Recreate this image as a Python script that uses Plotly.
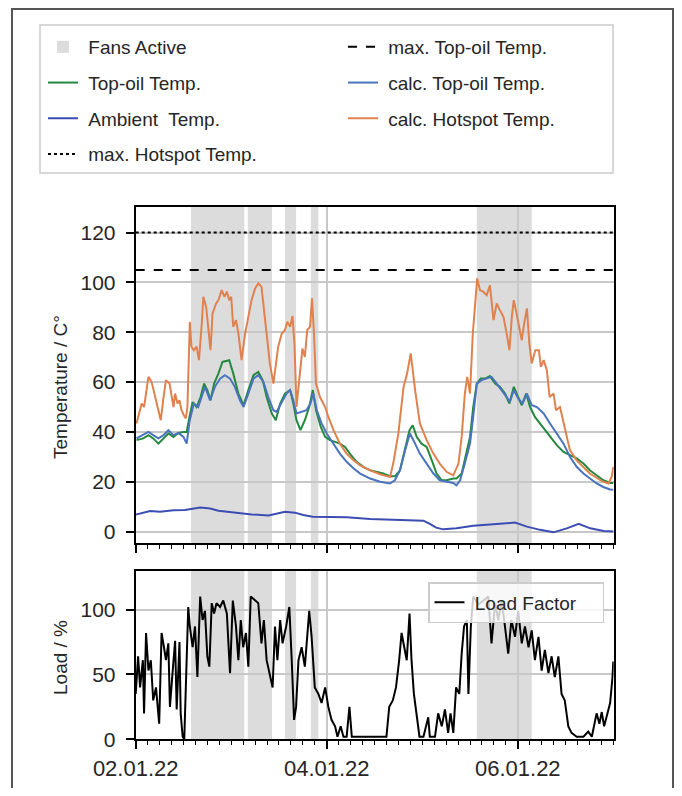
import pandas as pd
import plotly.graph_objects as go

BASE = pd.Timestamp("2022-01-02 00:00")
END_H = 120.1

# ---------------- data (hours after 02.01.22 00:00) ----------------
fans_start_h = [13.9, 28.15, 37.5, 44.0, 85.7]
fans_end_h = [27.3, 34.25, 40.3, 45.9, 99.5]

hotspot_h = [0.2, 0.9, 1.5, 2.1, 2.6, 3.2, 4.0, 4.9, 5.7, 6.3, 7.0, 7.6, 8.5, 9.0, 9.5, 9.9, 10.5,
             11.0, 11.5, 12.1, 12.6, 13.0, 13.6, 14.0, 14.6, 15.3, 15.9, 16.6, 17.0, 17.7, 18.2,
             18.8, 19.3, 20.2, 20.8, 21.6, 22.3, 22.9, 23.5, 24.0, 24.5, 25.2, 25.8, 26.6, 27.5,
             28.3, 29.1, 30.0, 30.8, 31.6, 32.5, 33.1, 33.7, 34.6, 35.3, 35.8, 36.7, 37.5, 38.1,
             38.8, 39.4, 39.9, 40.4, 41.1, 41.9, 42.5, 43.1, 43.8, 44.3, 44.8, 45.3, 46.3, 47.6,
             48.4, 49.7, 51.3, 53.0, 54.7, 56.4, 58.9, 61.4, 63.9, 64.7, 66.0, 67.3, 68.2, 69.1,
             70.2, 71.4, 73.1, 74.8, 76.4, 78.1, 79.8, 81.1, 81.9, 82.7, 83.3, 84.0, 84.7, 85.3,
             85.8, 86.5, 87.3, 88.2, 89.0, 89.9, 90.7, 91.5, 92.4, 93.2, 93.9, 94.5, 95.0, 95.7,
             96.4, 97.0, 97.6, 98.3, 98.9, 99.5, 100.4, 101.3, 101.8, 102.5, 103.3, 104.0, 105.0,
             105.6, 106.6, 107.9, 109.1, 110.8, 112.5, 114.1, 115.8, 117.5, 118.8, 119.6, 120.0]
hotspot_v = [43.4, 47.4, 51.4, 50.0, 55.4, 62.1, 60.0, 54.0, 48.7, 44.7, 54.0, 60.8, 59.4, 54.0,
             50.0, 55.4, 51.4, 52.7, 48.7, 46.7, 45.4, 50.0, 84.2, 74.2, 72.8, 74.2, 68.8, 83.5,
             94.2, 90.2, 80.9, 72.8, 87.5, 91.6, 92.9, 96.9, 94.2, 96.3, 92.9, 94.2, 82.2, 84.9,
             79.5, 68.8, 79.5, 86.2, 92.9, 97.6, 99.6, 98.3, 86.2, 76.8, 67.5, 59.4, 68.8, 74.2,
             79.5, 80.9, 84.2, 82.2, 86.5, 75.0, 50.0, 62.1, 73.5, 70.1, 80.9, 82.2, 93.6, 79.5,
             59.4, 54.0, 50.0, 46.0, 40.7, 35.3, 31.3, 28.6, 26.6, 24.6, 23.0, 21.9, 27.3, 39.4,
             58.1, 63.5, 71.5, 56.8, 43.4, 36.7, 31.3, 27.3, 24.0, 22.6, 27.3, 38.0, 55.4, 62.1,
             55.4, 79.5, 92.9, 101.6, 96.9, 96.3, 94.9, 98.9, 84.9, 91.6, 88.9, 86.2, 79.5, 72.8,
             86.2, 92.9, 87.5, 82.2, 76.8, 83.5, 89.6, 75.5, 67.5, 72.8, 72.8, 66.1, 68.8, 64.8,
             54.0, 55.4, 48.7, 50.0, 40.7, 32.7, 28.6, 26.0, 23.3, 21.6, 20.0, 19.3, 22.0, 26.0]

topoil_h = [0.2, 1.9, 3.2, 4.4, 5.7, 7.0, 8.2, 9.5, 10.7, 12.0, 12.8, 13.5, 14.3, 15.3, 16.3, 17.2,
            18.0, 18.8, 19.7, 20.8, 21.8, 23.5, 24.5, 25.8, 27.1, 28.3, 29.6, 30.8, 31.9, 32.9,
            34.2, 35.2, 36.3, 37.5, 38.8, 39.6, 40.4, 41.4, 42.5, 43.6, 44.5, 45.3, 46.5, 47.6,
            48.8, 50.1, 51.3, 52.6, 53.8, 55.5, 57.2, 58.9, 60.5, 62.2, 63.9, 65.1, 66.4, 67.7,
            68.8, 69.6, 70.6, 71.8, 73.1, 74.4, 75.6, 76.9, 78.1, 79.8, 80.6, 81.9, 83.2, 84.0,
            84.8, 85.7, 86.7, 87.8, 89.0, 90.3, 91.5, 92.8, 93.9, 95.0, 96.1, 97.0, 98.1, 99.1,
            100.3, 101.6, 102.9, 104.1, 105.8, 107.5, 109.1, 110.8, 112.5, 114.1, 115.8, 117.5,
            119.2, 120.0]
topoil_v = [36.7, 37.4, 38.7, 37.4, 35.3, 37.4, 39.4, 38.0, 39.6, 40.0, 40.0, 46.0, 52.0, 50.0,
            54.0, 59.4, 56.8, 52.7, 59.4, 63.5, 68.1, 68.8, 63.5, 55.4, 50.7, 56.8, 62.8, 64.1,
            60.8, 54.0, 47.4, 44.7, 51.4, 55.4, 56.8, 51.4, 44.7, 40.7, 44.7, 50.0, 56.8, 48.8,
            42.0, 38.0, 36.7, 36.0, 35.3, 34.0, 31.3, 28.0, 26.0, 24.6, 24.0, 23.3, 22.2, 22.2,
            24.6, 32.7, 40.7, 42.7, 38.0, 35.3, 34.0, 28.6, 23.3, 20.6, 20.6, 21.3, 21.3, 23.3,
            32.7, 38.0, 50.0, 59.4, 61.4, 61.4, 62.4, 59.4, 58.1, 55.4, 51.4, 58.1, 54.0, 50.7,
            55.4, 50.0, 46.0, 43.4, 40.7, 38.0, 34.7, 32.0, 30.7, 29.4, 27.3, 24.6, 22.6, 20.6,
            19.5, 19.5]

calc_topoil_h = [0.2, 1.9, 3.2, 4.4, 5.7, 7.0, 8.2, 9.5, 10.7, 12.0, 12.8, 13.6, 14.6, 15.7, 16.6,
                 17.4, 18.7, 19.9, 21.2, 22.4, 23.7, 24.9, 26.2, 27.1, 28.3, 29.6, 30.8, 32.1,
                 33.3, 34.6, 35.4, 36.7, 37.9, 38.8, 39.6, 40.4, 41.7, 42.9, 43.9, 44.6, 45.5,
                 46.7, 48.0, 49.7, 51.3, 53.0, 54.7, 56.4, 58.9, 61.4, 63.9, 65.1, 66.4, 67.7,
                 68.9, 70.2, 71.4, 73.1, 74.8, 76.4, 78.1, 79.8, 80.6, 81.5, 82.7, 84.0, 84.8,
                 85.7, 86.9, 88.2, 89.4, 90.7, 92.0, 93.2, 94.0, 95.0, 96.1, 97.2, 98.3, 99.5,
                 100.8, 102.5, 104.1, 105.8, 107.5, 109.1, 110.8, 112.5, 114.1, 115.8, 117.5,
                 119.2, 120.0]
calc_topoil_v = [37.4, 38.7, 40.0, 38.7, 37.4, 38.7, 40.7, 38.7, 39.6, 38.0, 35.3, 44.7, 51.4,
                 50.0, 54.0, 58.1, 52.7, 58.1, 61.4, 62.8, 61.4, 58.1, 52.7, 50.0, 55.4, 61.4,
                 62.8, 60.1, 54.0, 48.7, 48.0, 52.0, 55.4, 56.8, 52.7, 47.4, 48.0, 48.7, 51.4,
                 55.4, 48.7, 43.4, 39.4, 35.3, 31.3, 28.0, 25.4, 23.3, 21.3, 20.0, 19.3, 20.6,
                 24.6, 32.7, 39.4, 35.3, 31.3, 27.3, 23.3, 20.6, 20.0, 19.5, 18.6, 20.6, 27.3,
                 35.3, 46.0, 59.4, 60.8, 61.4, 62.1, 59.4, 56.8, 54.0, 52.0, 56.8, 53.4, 51.4,
                 55.4, 50.7, 50.0, 47.4, 43.4, 39.4, 35.3, 30.0, 26.0, 23.3, 21.3, 19.3, 17.9,
                 16.9, 16.8]

ambient_h = [0.0, 1.5, 3.6, 6.1, 9.5, 12.4, 16.2, 18.7, 20.8, 23.0, 25.0, 27.1, 29.2, 33.4, 35.5,
             37.5, 40.0, 42.1, 44.5, 47.1, 50.3, 53.0, 58.9, 65.6, 72.3, 73.9, 75.5, 77.3, 80.6,
             84.8, 89.0, 92.4, 95.3, 98.3, 101.6, 105.0, 108.3, 111.3, 114.2, 117.6, 120.0]
ambient_v = [6.8, 7.3, 8.3, 8.0, 8.6, 8.7, 9.7, 9.3, 8.4, 8.0, 7.6, 7.3, 6.9, 6.5, 7.2, 8.0, 7.6,
             6.7, 6.0, 6.0, 5.7, 5.8, 5.1, 4.9, 4.4, 3.1, 1.6, 0.9, 1.3, 2.3, 2.7, 3.1, 3.6, 2.0,
             0.7, -0.3, 1.3, 3.1, 1.3, 0.2, 0.0]

load_h = [0.0, 0.6, 1.1, 1.8, 2.1, 2.6, 3.2, 3.8, 4.4, 5.1, 5.9, 6.5, 7.1, 7.6, 8.2, 8.6, 9.3, 9.9,
          10.3, 11.0, 11.3, 11.8, 12.2, 12.6, 13.2, 13.6, 14.3, 14.9, 15.5, 16.2, 16.8, 17.4,
          18.0, 18.5, 19.1, 19.7, 20.3, 21.2, 22.0, 22.9, 23.7, 24.4, 25.2, 25.8, 26.4, 27.0,
          27.7, 28.3, 28.9, 29.7, 30.8, 31.6, 32.2, 32.9, 33.7, 34.4, 35.0, 35.6, 36.3, 36.9,
          37.8, 38.6, 39.2, 39.8, 40.3, 40.9, 41.7, 42.5, 43.6, 44.2, 45.0, 45.9, 46.7, 47.6,
          48.4, 49.2, 50.1, 50.7, 51.5, 52.2, 53.0, 53.7, 54.3, 55.5, 57.2, 60.5, 63.0, 63.7,
          64.6, 65.4, 66.2, 66.8, 67.4, 68.1, 68.8, 69.3, 69.9, 70.6, 71.3, 72.3, 73.5, 73.9,
          75.2, 76.0, 76.9, 77.7, 78.5, 79.1, 79.8, 80.5, 81.3, 81.9, 82.5, 83.2, 83.6, 84.2,
          84.8, 86.1, 87.3, 88.6, 89.4, 90.3, 91.1, 91.9, 92.7, 93.6, 94.4, 95.3, 96.1, 97.0,
          97.8, 98.7, 99.5, 100.3, 101.2, 102.0, 102.8, 103.7, 104.5, 105.3, 106.2, 107.0,
          107.8, 108.7, 109.5, 110.8, 112.5, 113.7, 114.6, 115.8, 116.5, 117.1, 117.7, 118.3,
          119.2, 119.8, 120.0]
load_v = [35, 64, 40, 61, 20, 82, 53, 61, 30, 40, 12, 82, 71, 61, 74, 25, 53, 76, 23, 75, 20, 2,
          0, 48, 102, 87, 71, 87, 48, 110, 92, 99, 64, 56, 105, 97, 105, 102, 107, 97, 51, 107,
          87, 61, 92, 71, 82, 56, 110, 108, 105, 74, 92, 61, 51, 40, 87, 61, 92, 74, 87, 102, 61,
          15, 25, 61, 71, 56, 99, 79, 40, 35, 28, 40, 25, 15, 10, 2, 10, 2, 2, 25, 2, 2, 2.5, 2,
          2, 25, 30, 40, 61, 82, 71, 61, 97, 61, 35, 20, 2, 2, 17, 2, 2, 20, 10, 23, 5, 20, 5,
          40, 35, 66, 87, 92, 35, 87, 110, 104, 107, 110, 74, 105, 92, 107, 89, 66, 92, 79, 99,
          74, 87, 71, 84, 61, 79, 53, 69, 51, 64, 48, 64, 35, 30, 10, 5, 2, 2, 6, 2, 20, 12, 21,
          10, 17, 28, 48, 60]

max_hotspot = 120
max_topoil = 105
temp_ticks = [0, 20, 40, 60, 80, 100, 120]
load_ticks = [0, 50, 100]


def t(hours):
    return [BASE + pd.Timedelta(hours=h) for h in hours]


limit_x = t([0.0, END_H])

# ---------------- geometry (page pixels; the page body has an 8px margin) ----------------
OFF = 8
W, H = 682 - 2 * OFF, 796 - 2 * OFF
px = lambda v: (v - OFF) / W
py = lambda v: 1 - (v - OFF) / H

FONT = "Liberation Sans, Arial, sans-serif"
TXT = "#262626"
GREEN = "#24893d"
AMB = "#3b4db3"
CALC = "#4a74bd"
ORANGE = "#e0824f"
FAN = "#dcdcdc"
GRID = "#c8c8c8"
SP = "\u00a0"

fig = go.Figure()

fig.add_trace(go.Scatter(x=t(topoil_h), y=topoil_v, mode="lines", name=SP + "Top-oil Temp.",
                         line=dict(color=GREEN, width=2), legend="legend", legendgroup="g2",
                         legendrank=2, xaxis="x", yaxis="y"))
fig.add_trace(go.Scatter(x=t(ambient_h), y=ambient_v, mode="lines", name=SP + "Ambient  Temp.",
                         line=dict(color=AMB, width=2), legend="legend", legendgroup="g3",
                         legendrank=3, xaxis="x", yaxis="y"))
fig.add_trace(go.Scatter(x=limit_x, y=[max_hotspot] * 2, mode="lines",
                         name=SP + "max. Hotspot Temp.",
                         line=dict(color="black", width=2, dash="dot"), legend="legend",
                         legendgroup="g4", legendrank=4, xaxis="x", yaxis="y"))
fig.add_trace(go.Scatter(x=limit_x, y=[max_topoil] * 2, mode="lines",
                         name=SP + "max. Top-oil Temp.",
                         line=dict(color="black", width=2, dash="dash"), legend="legend2",
                         legendgroup="h1", legendrank=1, xaxis="x", yaxis="y"))
fig.add_trace(go.Scatter(x=t(calc_topoil_h), y=calc_topoil_v, mode="lines",
                         name=SP + "calc. Top-oil Temp.",
                         line=dict(color=CALC, width=2), legend="legend2", legendgroup="h2",
                         legendrank=2, xaxis="x", yaxis="y"))
fig.add_trace(go.Scatter(x=t(hotspot_h), y=hotspot_v, mode="lines",
                         name=SP + "calc. Hotspot Temp.",
                         line=dict(color=ORANGE, width=2), legend="legend2", legendgroup="h3",
                         legendrank=3, xaxis="x", yaxis="y"))
fig.add_trace(go.Scatter(x=t(load_h), y=load_v, mode="lines",
                         name=SP + "Load Factor" + SP * 4,
                         line=dict(color="black", width=2), legend="legend3",
                         xaxis="x2", yaxis="y2"))

# fans active spans
for i, (a, b) in enumerate(zip(fans_start_h, fans_end_h)):
    x0, x1 = t([a, b])
    fig.add_shape(type="rect", xref="x", yref="y domain", x0=x0, x1=x1, y0=0, y1=1,
                  fillcolor=FAN, line_width=0, layer="below",
                  showlegend=(i == 0), name=SP + "Fans Active", legend="legend",
                  legendgroup="g1", legendrank=1)
    fig.add_shape(type="rect", xref="x2", yref="y2 domain", x0=x0, x1=x1, y0=0, y1=1,
                  fillcolor=FAN, line_width=0, layer="below")

# legend frame and outer frame
fig.add_shape(type="rect", xref="paper", yref="paper", x0=px(40), x1=px(613), y0=py(173),
              y1=py(25), line=dict(color="#cccccc", width=1.5), fillcolor="white", layer="below")
fig.add_shape(type="rect", xref="paper", yref="paper", x0=px(12), x1=px(673), y0=-0.05,
              y1=py(9), line=dict(color="#555555", width=2), fillcolor="rgba(0,0,0,0)",
              layer="below")

xdom = [px(135.7), px(613.7)]
xrange_ = t([0.0, END_H])
common_x = dict(range=xrange_, type="date", domain=xdom, showgrid=True, gridcolor=GRID,
                gridwidth=1.5, dtick=2 * 86400000, tick0=BASE, tickformat="%d.%m.%y",
                ticks="outside", ticklen=8, tickwidth=1.5, tickcolor="black",
                showline=True, linecolor="black", linewidth=2, mirror=True, zeroline=False,
                automargin=False,
                minor=dict(dtick=3 * 3600000, ticks="outside", ticklen=4, tickwidth=1.2,
                           tickcolor="black", showgrid=False),
                tickfont=dict(family=FONT, size=22, color=TXT))
common_y = dict(showgrid=True, gridcolor=GRID, gridwidth=1.5, ticks="outside", ticklen=8,
                tickwidth=1.5, tickcolor="black", showline=True, linecolor="black",
                linewidth=2, mirror=True, zeroline=False, automargin=False,
                ticklabelstandoff=6, tickfont=dict(family=FONT, size=21, color=TXT))

legend_common = dict(font=dict(family=FONT, size=19, color=TXT), bgcolor="rgba(0,0,0,0)",
                     borderwidth=0, itemwidth=30, tracegroupgap=8, orientation="v",
                     xanchor="left", yanchor="top", itemclick=False, itemdoubleclick=False)

fig.update_layout(
    width=W, height=H,
    margin=dict(l=0, r=0, t=0, b=0),
    paper_bgcolor="white", plot_bgcolor="white",
    font=dict(family=FONT, size=19, color=TXT),
    xaxis=dict(common_x, anchor="y", showticklabels=False),
    yaxis=dict(common_y, domain=[py(543.3), py(206.7)], range=[-4.7, 130.4],
               tickvals=temp_ticks, anchor="x"),
    xaxis2=dict(common_x, anchor="y2", matches="x"),
    yaxis2=dict(common_y, domain=[py(739.3), py(570.7)], range=[0, 130],
                tickvals=load_ticks, anchor="x2"),
    legend=dict(legend_common, x=px(43), y=py(28)),
    legend2=dict(legend_common, x=px(343), y=py(28)),
    legend3=dict(font=dict(family=FONT, size=19, color=TXT), bgcolor="rgba(255,255,255,0.8)",
                 bordercolor="#cccccc", borderwidth=1.5, itemwidth=30,
                 xanchor="right", yanchor="top", x=px(604), y=py(582)),
    annotations=[
        dict(text="Temperature / C°", x=px(60), y=py(387), xref="paper", yref="paper",
             xanchor="center", yanchor="middle", textangle=-90, showarrow=False,
             font=dict(family=FONT, size=19, color=TXT)),
        dict(text="Load / %", x=px(60), y=py(658), xref="paper", yref="paper",
             xanchor="center", yanchor="middle", textangle=-90, showarrow=False,
             font=dict(family=FONT, size=19, color=TXT)),
    ],
)

fig.write_html("out.html")
